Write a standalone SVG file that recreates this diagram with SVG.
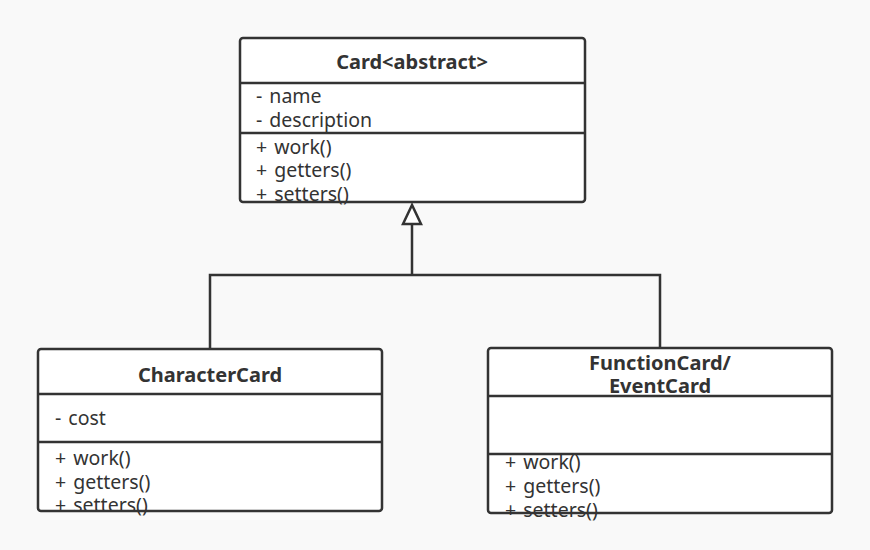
<svg xmlns="http://www.w3.org/2000/svg" width="870" height="550" viewBox="0 0 870 550">
<style>
.bg{fill:#f9f9f9}
.box{fill:#ffffff;stroke:none}
.frame{fill:none;stroke:#333333;stroke-width:2.5}
.div{stroke:#333333;stroke-width:2.5}
.t{font-family:"Noto Sans","Open Sans",sans-serif;font-size:19.5px;fill:#333333;word-spacing:2px}
.h{font-family:"Noto Sans","Open Sans",sans-serif;font-size:20px;font-weight:bold;fill:#333333;text-anchor:middle}
.conn{fill:none;stroke:#333333;stroke-width:2.5}
</style>
<rect class="bg" x="0" y="0" width="870" height="550"/>
<g id="connectors">
<polyline class="conn" points="210,349 210,275 660,275 660,348"/>
<line class="conn" x1="412" y1="275" x2="412" y2="224"/>
<polygon points="412,205 403,224 421,224" fill="#ffffff" stroke="#333333" stroke-width="2.5" stroke-linejoin="miter"/>
</g>
<g id="card">
<rect class="box" x="240" y="38" width="345" height="164" rx="3"/>
<text class="h" x="412" y="69">Card&lt;abstract&gt;</text>
<text class="t" x="256" y="103">- name</text>
<text class="t" x="256" y="127">- description</text>
<text class="t" x="256" y="154">+ work()</text>
<text class="t" x="256" y="177">+ getters()</text>
<text class="t" x="256" y="201">+ setters()</text>
<line class="div" x1="240" y1="83" x2="585" y2="83"/>
<line class="div" x1="240" y1="133" x2="585" y2="133"/>
<rect class="frame" x="240" y="38" width="345" height="164" rx="3"/>
</g>
<g id="charactercard">
<rect class="box" x="38" y="349" width="344" height="162" rx="3"/>
<text class="h" x="210" y="382">CharacterCard</text>
<text class="t" x="55" y="425">- cost</text>
<text class="t" x="55" y="465">+ work()</text>
<text class="t" x="55" y="489">+ getters()</text>
<text class="t" x="55" y="512">+ setters()</text>
<line class="div" x1="38" y1="394" x2="382" y2="394"/>
<line class="div" x1="38" y1="442" x2="382" y2="442"/>
<rect class="frame" x="38" y="349" width="344" height="162" rx="3"/>
</g>
<g id="functioncard">
<rect class="box" x="488" y="348" width="344" height="165" rx="3"/>
<text class="h" x="660" y="370">FunctionCard/</text>
<text class="h" x="660" y="393">EventCard</text>
<text class="t" x="505" y="469">+ work()</text>
<text class="t" x="505" y="493">+ getters()</text>
<text class="t" x="505" y="517">+ setters()</text>
<line class="div" x1="488" y1="396" x2="832" y2="396"/>
<line class="div" x1="488" y1="454" x2="832" y2="454"/>
<rect class="frame" x="488" y="348" width="344" height="165" rx="3"/>
</g>
</svg>
